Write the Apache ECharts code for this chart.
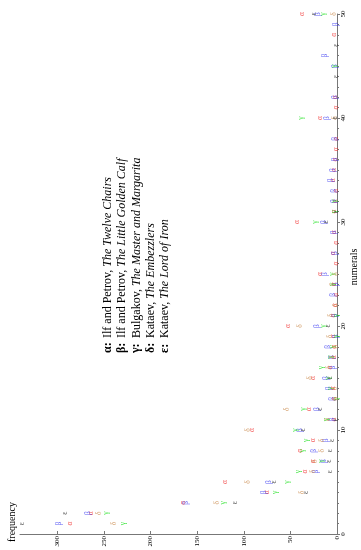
<!DOCTYPE html>
<html><head><meta charset="utf-8">
<script src="https://cdn.jsdelivr.net/npm/echarts@6/dist/echarts.min.js"></script>
<style>html,body{margin:0;padding:0;background:#fff}#c{width:361px;height:550px}</style>
</head><body><div id="c"></div>
<script>
const numerals = [1,2,3,4,5,6,7,8,9,10,11,12,13,14,15,16,17,18,19,20,21,22,23,24,25,26,27,28,29,30,31,32,33,34,35,36,37,38,39,40,41,42,43,44,45,46,47,48,49,50];
const alphaFreq = [286,264,165,75,120,34,26,40,26,91, 3,30,3,4,26,7,3,3,4,52, 4,2,1,3,18,1,4,1,3,43, 3,2,1,4,3,2,1,1,0,18, 1,2,0,0,0,0,0,3,0,38];
const betaFreq  = [298,267,162,78,73,23,14,25,12,40, 5,21,5,9,12,4,5,10,1,21, 2,0,4,1,13,0,2,0,3,14, 0,3,3,6,4,2,0,2,0,11, 0,2,0,0,2,13,0,0,1,20];
const gammaFreq = [229,248,122,66,54,42,17,37,33,45, 12,36,1,7,10,17,8,5,1,15, 1,0,0,5,5,0,0,0,0,24, 3,3,0,0,0,0,0,0,0,39, 0,0,0,0,3,0,0,0,0,15];
const deltaFreq = [239,255,129,37,95,26,24,16,16,95, 10,54,1,2,29,9,4,1,7,40, 6,1,0,4,1,0,0,0,0,0, 0,0,0,0,0,0,0,0,0,2, 0,0,0,0,0,0,0,0,0,3];
const epsFreq   = [338,292,109,33,68,8,9,7,5,36, 1,18,0,0,7,0,0,0,0,10, 0,0,0,0,0,0,0,0,0,12, 1,0,0,0,0,0,0,0,0,2, 0,0,0,1,0,0,1,0,0,25];
const letters = ['α','β','γ','δ','ε'];
const colors = ['#f03030','#3030f0','#10e010','#c98a4b','#1a1a1a'];
const allFreq = [alphaFreq, betaFreq, gammaFreq, deltaFreq, epsFreq];
const authors = ['Ilf and Petrov, ','Ilf and Petrov, ','Bulgakov, ','Kataev, ','Kataev, '];
const titles = ['The Twelve Chairs','The Little Golden Calf','The Master and Margarita','The Embezzlers','The Lord of Iron'];
const freqTicks = [0,50,100,150,200,250,300];
const numTicks = [0,10,20,30,40,50];

const FONT = '"Liberation Serif", "Times New Roman", serif';
const chart = echarts.init(document.getElementById('c'), null, {renderer:'canvas'});

const series = allFreq.map((arr, k) => ({
  type: 'scatter',
  name: letters[k],
  symbol: 'circle',
  symbolSize: 0.1,
  itemStyle: {color: 'rgba(0,0,0,0)'},
  // zero counts are not drawn
  data: numerals.map((n, i) => arr[i] > 0 ? [arr[i], n] : [null, n]),
  label: {
    show: true, position: 'inside', rotate: 90,
    formatter: letters[k], color: colors[k],
    fontSize: 7.5, fontFamily: FONT
  },
  labelLayout: {hideOverlap: false},
  silent: true, animation: false
}));

const graphics = [];
letters.forEach((g, k) => {
  const x = 108 + 14.2 * k;
  graphics.push({type:'text', x: x, y: 353, rotation: Math.PI/2,
    style:{text: g + ':', font: 'bold 12px ' + FONT, fill:'#000', textAlign:'left', textVerticalAlign:'middle'}});
  graphics.push({type:'text', x: x, y: 338, rotation: Math.PI/2,
    style:{text: '{a|' + authors[k] + '}{t|' + titles[k] + '}', textAlign:'left', textVerticalAlign:'middle',
      rich:{a:{font:'12px ' + FONT, fill:'#000'}, t:{font:'italic 12px ' + FONT, fill:'#000'}}}});
});
graphics.push({type:'text', x: 12, y: 522, rotation: Math.PI/2,
  style:{text:'frequency', font:'10px ' + FONT, fill:'#000', textAlign:'center', textVerticalAlign:'middle'}});
graphics.push({type:'text', x: 354, y: 267, rotation: Math.PI/2,
  style:{text:'numerals', font:'10px ' + FONT, fill:'#000', textAlign:'center', textVerticalAlign:'middle'}});

chart.setOption({
  animation: false,
  backgroundColor: '#fff',
  grid: {left: 20, right: 24, top: 14, bottom: 16, containLabel: false},
  xAxis: {
    type: 'value', inverse: true, min: 0, max: 340, interval: 50, position: 'bottom',
    axisLine: {lineStyle: {color: '#777'}},
    axisTick: {inside: true, length: 3, lineStyle: {color: '#777'}},
    axisLabel: {rotate: 90, fontSize: 7, fontFamily: FONT, color: '#000', margin: 2, showMaxLabel: false,
      formatter: v => freqTicks.includes(v) ? String(v) : ''},
    splitLine: {show: false}
  },
  yAxis: {
    type: 'value', min: 0, max: 50, interval: 10, position: 'right',
    axisLine: {show: true, lineStyle: {color: '#777'}},
    axisTick: {show: true, length: 3, lineStyle: {color: '#777'}},
    minorTick: {show: true, splitNumber: 10, length: 2, lineStyle: {color: '#777'}},
    axisLabel: {rotate: 90, fontSize: 7, fontFamily: FONT, color: '#000', margin: 3,
      formatter: v => numTicks.includes(v) ? String(v) : ''},
    splitLine: {show: false}
  },
  series: series,
  graphic: graphics
});
</script></body></html>
